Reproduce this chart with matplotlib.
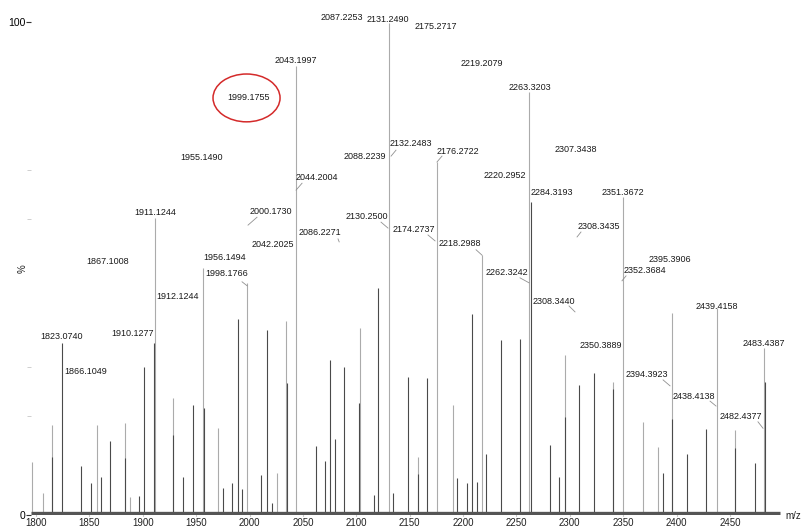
import matplotlib
matplotlib.use("Agg")
import matplotlib.pyplot as plt
from matplotlib.patches import Ellipse

plt.rcParams['font.family'] = ['Liberation Sans', 'DejaVu Sans']

# stick peaks (m/z, relative intensity %)
light_mz = [1796.5, 1806.6, 1815.0, 1857.1, 1883.4, 1888.1, 1911.5, 1928.3, 1956.4, 1970.5,
            1997.7, 2025.8, 2034.2, 2043.6, 2103.5, 2130.7, 2157.8, 2175.6, 2190.6, 2217.8,
            2261.8, 2295.6, 2340.5, 2349.9, 2368.6, 2382.7, 2395.8, 2437.9, 2454.8, 2482.0]
light_int = [10.8, 4.5, 18.3, 18.3, 18.7, 3.7, 60.2, 23.7, 50.1, 17.6,
             47.1, 8.5, 39.4, 91.1, 37.9, 99.8, 11.8, 71.6, 22.3, 52.7,
             85.8, 32.5, 27.0, 64.5, 18.9, 13.8, 41.0, 42.0, 17.2, 33.9]

dark_mz = [1815.0, 1824.4, 1842.2, 1851.5, 1860.9, 1869.3, 1883.4, 1896.5, 1901.2, 1910.5,
           1928.3, 1937.7, 1947.1, 1957.4, 1975.2, 1983.6, 1989.2, 1993.0, 2010.8, 2016.4,
           2021.0, 2035.1, 2062.3, 2070.7, 2075.4, 2080.1, 2088.5, 2102.6, 2116.6, 2120.4,
           2134.4, 2148.5, 2157.8, 2166.3, 2194.4, 2203.7, 2208.4, 2213.1, 2221.5, 2235.6,
           2253.4, 2263.7, 2281.5, 2289.9, 2295.6, 2308.7, 2322.7, 2340.5, 2387.4, 2395.8,
           2409.8, 2427.6, 2454.8, 2473.5, 2482.9]
dark_int = [11.8, 34.9, 9.9, 6.5, 7.7, 15.0, 11.6, 3.9, 30.0, 34.9,
            16.2, 7.7, 22.3, 21.7, 5.5, 6.5, 39.8, 5.3, 8.1, 37.5,
            2.4, 26.8, 14.0, 11.0, 31.4, 15.4, 30.0, 22.7, 4.1, 46.0,
            4.5, 28.0, 8.3, 27.8, 7.5, 6.5, 40.8, 6.7, 12.4, 35.5,
            35.7, 63.5, 14.2, 7.7, 19.9, 26.4, 28.8, 25.6, 8.5, 19.5,
            12.4, 17.4, 13.6, 10.5, 27.0]

# peak annotations: text and where they sit (m/z, %)
labels = ["1999.1755", "1955.1490", "2087.2253", "2131.2490", "2175.2717", "2043.1997",
          "2219.2079", "2263.3203", "2132.2483", "2088.2239", "2176.2722", "2220.2952",
          "2044.2004", "2307.3438", "1911.1244", "1867.1008", "1956.1494", "1998.1766",
          "1912.1244", "1823.0740", "1910.1277", "2000.1730", "2042.2025", "2130.2500",
          "2086.2271", "2174.2737", "2218.2988", "2262.3242", "2284.3193", "2351.3672",
          "2308.3435", "2395.3906", "2352.3684", "2308.3440", "2439.4158", "2350.3889",
          "2483.4387", "1866.1049", "2394.3923", "2438.4138", "2482.4377"]
lab_x = [1999.5, 1955.5, 2086.7, 2129.7, 2174.7, 2043.6,
         2217.8, 2262.8, 2151.3, 2108.2, 2195.3, 2239.3,
         2063.2, 2305.9, 1911.5, 1867.4, 1977.0, 1978.9,
         1933.0, 1824.4, 1890.9, 2020.1, 2022.0, 2110.1,
         2066.0, 2154.1, 2197.2, 2241.2, 2283.4, 2349.9,
         2327.4, 2393.9, 2370.5, 2285.2, 2437.9, 2329.3,
         2482.0, 1846.8, 2372.4, 2416.4, 2460.4]
lab_y = [84.6, 72.6, 101.0, 100.6, 99.0, 92.1,
         91.5, 86.8, 75.3, 72.8, 73.8, 68.8,
         68.4, 74.2, 61.3, 51.5, 52.3, 48.9,
         44.4, 36.3, 36.9, 61.5, 54.8, 60.6,
         57.4, 58.0, 55.0, 49.1, 65.5, 65.5,
         58.6, 51.9, 49.5, 43.4, 42.2, 34.3,
         34.7, 29.2, 28.4, 24.1, 19.9]

# short leader lines from labels to their peaks
leaders = [
    ((2137.2, 74.0), (2132.6, 72.8)),
    ((2180.3, 72.8), (2175.6, 71.6)),
    ((2049.2, 67.3), (2043.6, 65.9)),
    ((2007.0, 60.4), (1998.6, 58.8)),
    ((1993.0, 47.3), (1997.7, 46.5)),
    ((2123.2, 59.4), (2129.7, 58.2)),
    ((2167.2, 56.8), (2173.8, 55.6)),
    ((2212.2, 53.8), (2217.8, 52.7)),
    ((2253.4, 48.1), (2261.8, 47.1)),
    ((2310.5, 57.4), (2306.8, 56.4)),
    ((2352.7, 48.5), (2348.9, 47.5)),
    ((2299.3, 42.4), (2304.9, 41.2)),
    ((2387.4, 27.4), (2393.9, 26.2)),
    ((2431.4, 23.1), (2437.0, 22.1)),
    ((2476.3, 18.9), (2481.0, 17.6)),
    ((2082.9, 56.0), (2084.0, 55.4)),
]

x_ticks = list(range(1800, 2451, 50))

fig = plt.figure(figsize=(8.03, 5.29), dpi=100)
ax = fig.add_axes([31/803, 14/529, 751/803, 493/529])

ax.vlines(light_mz, 0, light_int, colors='#ababab', lw=0.8)
ax.vlines(dark_mz, 0, dark_int, colors='#4a4a4a', lw=0.8)
# noisy baseline
ax.plot([1795.5, 2497], [0.5, 0.5], color='#555555', lw=2.4, solid_capstyle='butt')

for t, x, y in zip(labels, lab_x, lab_y):
    ax.text(x, y, t, fontsize=6.5, ha='center', va='center', color='#1a1a1a')

for (x1, y1), (x2, y2) in leaders:
    ax.plot([x1, x2], [y1, y2], color='#909090', lw=0.6)

ax.add_patch(Ellipse((1997.2, 84.6), 62.8, 9.7, fill=False, edgecolor='#d42a2a', lw=1.1))

ax.set_xlim(1795.3, 2498.8)
ax.set_ylim(0, 100)
for s in ax.spines.values():
    s.set_visible(False)

ax.set_xticks(x_ticks)
ax.tick_params(axis='x', length=1, color='#999999', pad=1.5, labelsize=7, labelcolor='#222222')
ax.set_yticks([0, 100])
ax.set_yticklabels(['0', '100'])
ax.set_yticks([20, 30, 60, 70], minor=True)
ax.tick_params(axis='y', which='major', length=3.5, color='#333333', pad=0.3, labelsize=7.5)
ax.tick_params(axis='y', which='minor', length=3, color='#c8c8c8')

fig.text(793/803, 1 - 516/529, 'm/z', fontsize=7, ha='center', va='center', color='#222222')
fig.text(23/803, 1 - 269/529, '%', fontsize=7, ha='center', va='center', rotation=90, color='#222222')

fig.savefig('out.png', dpi=100)
